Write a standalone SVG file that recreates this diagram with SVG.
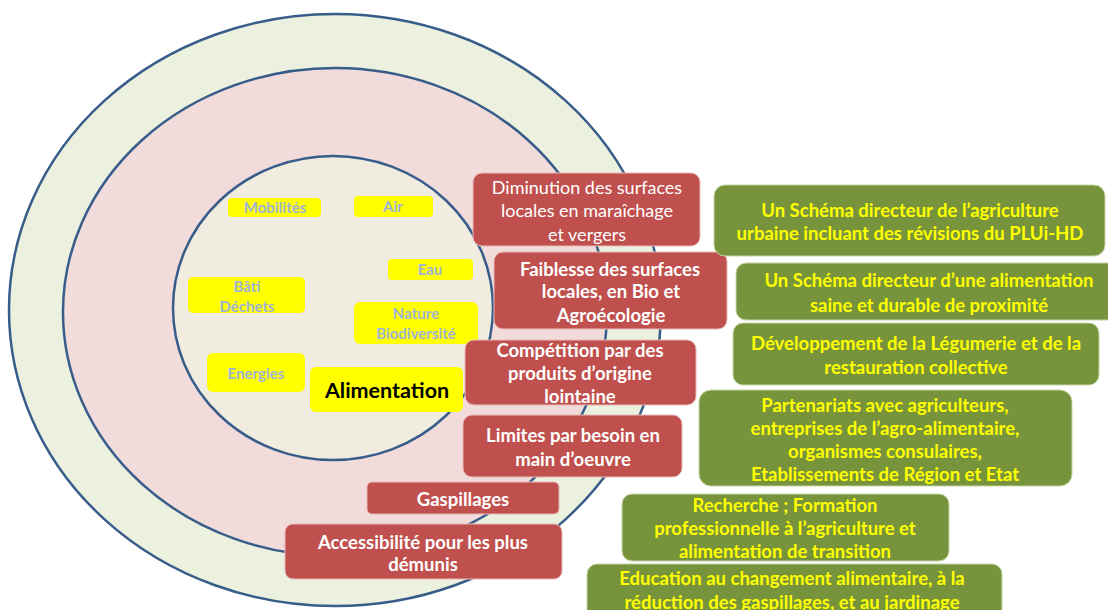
<svg xmlns="http://www.w3.org/2000/svg" width="1108" height="610" viewBox="0 0 1108 610">
<style>
.ring{stroke:#385D8A;stroke-width:2.5}
.yb{fill:#FFFF00}
.yt{font-family:Lato,"Liberation Sans",sans-serif;font-weight:bold;font-size:15px;fill:#9EB4D8;text-anchor:middle}
.rb{fill:#C0504D;stroke:#E9B9B7;stroke-width:1}
.rt{font-family:Lato,"Liberation Sans",sans-serif;font-size:18px;fill:#FFFFFF;text-anchor:middle}
.b{font-weight:bold;font-size:18.5px}
.gb{fill:#77933C;stroke:#C5D6A6;stroke-width:1}
.gt{font-family:Lato,"Liberation Sans",sans-serif;font-weight:bold;font-size:18.5px;fill:#FFFF00;text-anchor:middle}
</style>
<rect width="1108" height="610" fill="#FFFFFF"/>
<g id="rings">
<ellipse class="ring" cx="335" cy="310" rx="326" ry="296" fill="#EBF0DF"/>
<ellipse class="ring" cx="335" cy="312" rx="272" ry="244" fill="#F2DCDB"/>
<ellipse class="ring" cx="333" cy="308" rx="160" ry="152" fill="#F0ECDF"/>
</g>
<g id="inner-labels">
<g id="mobilites"><rect class="yb" x="228" y="198" width="93" height="19" rx="4"/><text class="yt" x="275" y="213">Mobilités</text></g>
<g id="air"><rect class="yb" x="354" y="196" width="79" height="21" rx="4"/><text class="yt" x="393" y="212">Air</text></g>
<g id="eau"><rect class="yb" x="388" y="259" width="85" height="21" rx="4"/><text class="yt" x="430" y="275">Eau</text></g>
<g id="bati"><rect class="yb" x="188" y="277" width="117" height="36" rx="5"/><text class="yt" x="247" y="292">Bâti</text><text class="yt" x="247" y="312">Déchets</text></g>
<g id="nature"><rect class="yb" x="354" y="302" width="124" height="42" rx="6"/><text class="yt" x="416" y="319">Nature</text><text class="yt" x="416" y="339">Biodiversité</text></g>
<g id="energies"><rect class="yb" x="207" y="353" width="98" height="39" rx="6"/><text class="yt" x="256" y="379">Energies</text></g>
<g id="alimentation"><rect class="yb" x="310" y="367" width="153" height="45" rx="6"/><text x="387" y="397.5" text-anchor="middle" font-family="Lato,'Liberation Sans',sans-serif" font-weight="bold" font-size="21.5" fill="#000000">Alimentation</text></g>
</g>
<g id="red-boxes">
<g id="r1"><rect class="rb" x="473" y="173" width="227" height="73" rx="9"/><text class="rt" x="587" y="193.5">Diminution des surfaces</text><text class="rt" x="587" y="217">locales en maraîchage</text><text class="rt" x="587" y="240.5">et vergers</text></g>
<g id="r2"><rect class="rb" x="494" y="252" width="233" height="77" rx="9"/><text class="rt b" x="610" y="275.5">Faiblesse des  surfaces</text><text class="rt b" x="611" y="298">locales, en Bio et</text><text class="rt b" x="611" y="321.5">Agroécologie</text></g>
<g id="r3"><rect class="rb" x="465" y="340" width="231" height="65" rx="9"/><text class="rt b" x="580" y="356.5">Compétition par des</text><text class="rt b" x="580" y="379.5">produits d’origine</text><text class="rt b" x="580" y="403">lointaine</text></g>
<g id="r4"><rect class="rb" x="463" y="415" width="219" height="62" rx="9"/><text class="rt b" x="573" y="441.5">Limites par besoin  en</text><text class="rt b" x="573" y="465.5">main d’oeuvre</text></g>
<g id="r5"><rect class="rb" x="367" y="482" width="192" height="32" rx="5"/><text class="rt b" x="463" y="505.5">Gaspillages</text></g>
<g id="r6"><rect class="rb" x="285" y="524" width="277" height="55" rx="8"/><text class="rt b" x="423" y="548.5">Accessibilité pour les plus</text><text class="rt b" x="423" y="570.5">démunis</text></g>
</g>
<g id="green-boxes">
<g id="g1"><rect class="gb" x="714" y="185" width="391" height="71" rx="11"/><text class="gt" x="910" y="216.5">Un Schéma directeur de l’agriculture</text><text class="gt" x="910" y="239.5">urbaine incluant des révisions du PLUi-HD</text></g>
<g id="g2"><rect class="gb" x="736" y="263" width="390" height="57" rx="10"/><text class="gt" x="929" y="286.5">Un Schéma directeur d’une alimentation</text><text class="gt" x="929" y="311.5">saine et durable de proximité</text></g>
<g id="g3"><rect class="gb" x="733" y="323" width="366" height="62" rx="10"/><text class="gt" x="916" y="349.5">Développement de la Légumerie et de la</text><text class="gt" x="916" y="373.5">restauration collective</text></g>
<g id="g4"><rect class="gb" x="699" y="390" width="373" height="96" rx="12"/><text class="gt" x="885" y="411.5">Partenariats avec agriculteurs,</text><text class="gt" x="885" y="434.5">entreprises de l’agro-alimentaire,</text><text class="gt" x="885" y="457.5">organismes consulaires,</text><text class="gt" x="885" y="480.5">Etablissements  de Région et Etat</text></g>
<g id="g5"><rect class="gb" x="622" y="494" width="327" height="67" rx="10"/><text class="gt" x="785" y="511.5">Recherche ; Formation</text><text class="gt" x="785" y="534.5">professionnelle à l’agriculture et</text><text class="gt" x="785" y="557.5">alimentation de transition</text></g>
<g id="g6"><rect class="gb" x="587" y="564" width="415" height="60" rx="10"/><text class="gt" x="792" y="584.5">Education au changement alimentaire, à la</text><text class="gt" x="792" y="608.5">réduction des gaspillages, et au jardinage</text></g>
</g>
<g id="connectors"/>
</svg>
